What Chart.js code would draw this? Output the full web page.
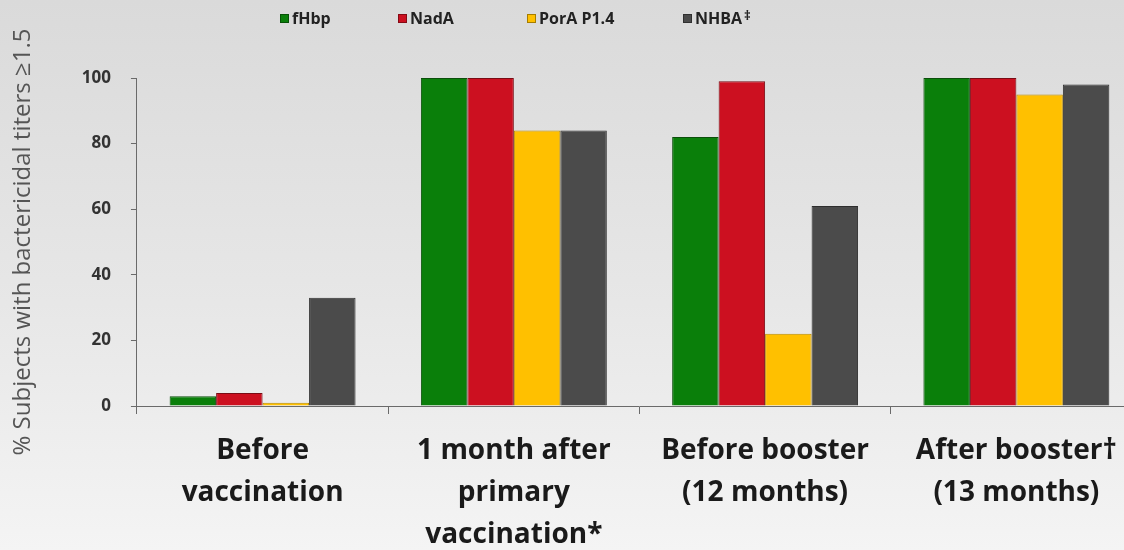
<!DOCTYPE html>
<html>
<head>
<meta charset="utf-8">
<title>Bactericidal titers</title>
<script src="https://cdn.jsdelivr.net/npm/chart.js@4.4.0/dist/chart.umd.min.js"></script>
<style>
    html, body {
        margin: 0;
        padding: 0;
        width: 1124px;
        height: 550px;
        overflow: hidden;
    }
    body {
        position: relative;
        background: linear-gradient(to bottom, #dadada 0%, #e7e7e7 55%, #f4f4f4 100%);
        font-family: 'Open Sans', Lato, sans-serif;
    }
    #chart {
        position: absolute;
        left: 0;
        top: 0;
    }
    #legend {
        position: absolute;
        left: 0;
        top: 7px;
        width: 1124px;
        height: 24px;
    }
    .legend-item {
        position: absolute;
        top: 0;
        display: flex;
        align-items: center;
        font-weight: bold;
        font-size: 16px;
        color: #222;
        white-space: nowrap;
    }
    .legend-box {
        width: 9px;
        height: 9px;
        margin-right: 3px;
        box-sizing: border-box;
        border: 1px solid rgba(0, 0, 0, 0.35);
    }
    .legend-item sup {
        font-size: 13px;
        margin-left: 2px;
        position: relative;
        top: -3px;
    }
</style>
</head>
<body>
<!-- canvas is taller/wider than the window: the original crops the last category and the label area -->
<canvas id="chart" width="1142" height="572"></canvas>
<div id="legend"></div>

<script>
// Chart data
const categories = [
    ['Before', 'vaccination'],
    ['1 month after', 'primary', 'vaccination*'],
    ['Before booster', '(12 months)'],
    ['After booster\u2020', '(13 months)']
];
const seriesNames = ['fHbp', 'NadA', 'PorA P1.4', 'NHBA'];
const seriesMarks = ['', '', '', '\u2021'];
const fHbpValues = [3, 100, 82, 100];
const nadAValues = [4, 100, 99, 100];
const porAValues = [1, 84, 22, 95];
const nhbaValues = [33, 84, 61, 98];
const yTicks = [0, 20, 40, 60, 80, 100];

// Styles
const fillColors = ['#0a7f0a', '#cc1020', '#ffc000', '#4b4b4b'];
const edgeColors = ['#0b4f0b', '#7a0c14', '#b88a00', '#2e2e2e'];
const legendLeft = [280, 398, 527, 683];
const fontFamily = '"Open Sans", Lato, sans-serif';

// Build legend (the original places it off-centre, so it is positioned by hand)
function buildLegend() {
    const legend = document.getElementById('legend');
    seriesNames.forEach((name, i) => {
        const item = document.createElement('div');
        item.className = 'legend-item';
        item.style.left = legendLeft[i] + 'px';
        item.innerHTML = `<span class="legend-box" style="background:${fillColors[i]}"></span>${name}` +
            (seriesMarks[i] ? `<sup>${seriesMarks[i]}</sup>` : '');
        legend.appendChild(item);
    });
}

function initChart() {
    const ctx = document.getElementById('chart').getContext('2d');
    const values = [fHbpValues, nadAValues, porAValues, nhbaValues];

    return new Chart(ctx, {
        type: 'bar',
        data: {
            labels: categories,
            datasets: seriesNames.map((name, i) => ({
                label: name,
                data: values[i],
                backgroundColor: fillColors[i],
                borderColor: edgeColors[i],
                borderWidth: 1,
                categoryPercentage: 0.74,
                barPercentage: 1.0
            }))
        },
        options: {
            responsive: false,
            animation: false,
            layout: {
                padding: { top: 78, left: 9, right: 0, bottom: 0 }
            },
            plugins: {
                legend: { display: false },
                tooltip: { enabled: false }
            },
            scales: {
                x: {
                    grid: {
                        display: true,
                        drawOnChartArea: false,
                        drawTicks: true,
                        tickLength: 8,
                        color: '#6a6a6a',
                        offset: true
                    },
                    border: { color: '#6a6a6a', width: 1 },
                    ticks: {
                        color: '#1a1a1a',
                        autoSkip: false,
                        maxRotation: 0,
                        padding: 16,
                        font: { family: fontFamily, size: 28, weight: 'bold', lineHeight: 1.5 }
                    }
                },
                y: {
                    min: 0,
                    max: 100,
                    afterBuildTicks: (axis) => {
                        axis.ticks = yTicks.map(v => ({ value: v }));
                    },
                    grid: {
                        display: true,
                        drawOnChartArea: false,
                        drawTicks: true,
                        tickLength: 6,
                        color: '#6a6a6a'
                    },
                    border: { color: '#6a6a6a', width: 1 },
                    ticks: {
                        color: '#333',
                        padding: 20,
                        font: { family: fontFamily, size: 17, weight: 'bold' }
                    },
                    title: {
                        display: true,
                        text: '% Subjects with bactericidal titers \u22651.5',
                        color: '#555',
                        padding: { top: 0, bottom: 24 },
                        font: { family: fontFamily, size: 24 }
                    }
                }
            }
        }
    });
}

document.addEventListener('DOMContentLoaded', () => {
    buildLegend();
    initChart();
});
</script>
</body>
</html>
